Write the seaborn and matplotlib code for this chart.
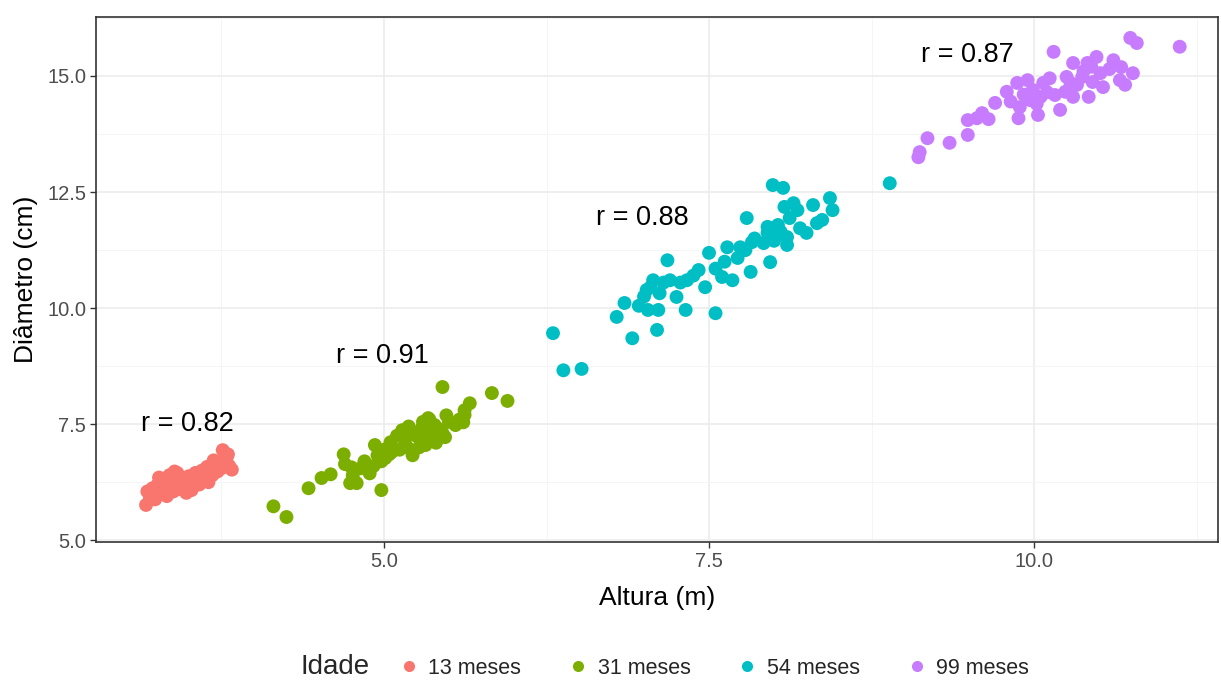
import matplotlib
matplotlib.use("Agg")
import matplotlib.pyplot as plt
from matplotlib.lines import Line2D
from matplotlib.ticker import MultipleLocator, FormatStrFormatter
import seaborn as sns
import pandas as pd

# data
x13 = [3.17, 3.18, 3.20, 3.22, 3.24, 3.26, 3.28, 3.30, 3.31, 3.33, 3.35, 3.36, 3.38,
       3.40, 3.41, 3.43, 3.45, 3.46, 3.48, 3.50, 3.51, 3.53, 3.55, 3.56, 3.58, 3.60,
       3.62, 3.63, 3.65, 3.67, 3.68, 3.70, 3.72, 3.73, 3.75, 3.77, 3.78, 3.80, 3.76,
       3.81, 3.83, 3.27, 3.39, 3.52, 3.64, 3.25, 3.44, 3.57, 3.69, 3.79]
y13 = [5.76, 6.05, 5.92, 6.12, 5.88, 6.20, 6.00, 6.30, 6.08, 5.95, 6.40, 6.18, 6.05,
       6.28, 6.45, 6.10, 6.35, 6.22, 6.02, 6.38, 6.25, 6.15, 6.45, 6.30, 6.20, 6.50,
       6.35, 6.42, 6.25, 6.55, 6.40, 6.60, 6.48, 6.68, 6.55, 6.72, 6.62, 6.85, 6.94,
       6.60, 6.52, 6.35, 6.48, 6.08, 6.58, 5.98, 6.20, 6.42, 6.72, 6.78]

x31 = [4.15, 4.25, 4.42, 4.52, 4.59, 4.69, 4.70, 4.75, 4.76, 4.74, 4.79, 4.85, 4.89,
       4.93, 4.95, 4.98, 5.01, 5.05, 5.06, 5.14, 5.16, 5.18, 5.22, 5.24, 5.29, 5.32,
       5.34, 5.37, 5.39, 5.45, 5.45, 5.48, 5.55, 5.61, 5.62, 5.66, 5.83, 5.95,
       5.10, 5.20, 5.28, 5.12, 5.35, 5.42, 5.50, 5.58, 5.00, 4.92, 5.27, 5.40,
       5.62, 5.04, 5.19, 5.33, 4.82, 4.98, 5.30, 5.47]
y31 = [5.73, 5.50, 6.12, 6.34, 6.42, 6.85, 6.64, 6.57, 6.40, 6.23, 6.23, 6.70, 6.44,
       7.05, 6.83, 6.08, 6.77, 7.11, 6.90, 7.37, 7.16, 7.00, 6.83, 7.26, 7.41, 7.05,
       7.63, 7.20, 7.48, 8.30, 7.31, 7.69, 7.48, 7.54, 7.80, 7.95, 8.17, 8.00,
       7.25, 7.35, 7.15, 6.95, 7.60, 7.40, 7.55, 7.60, 6.95, 6.60, 7.00, 7.10,
       7.70, 6.85, 7.45, 7.30, 6.55, 6.70, 7.55, 7.22]

x54 = [6.30, 6.38, 6.52, 6.79, 6.85, 6.91, 7.03, 7.10, 7.11, 7.02, 7.07, 7.12, 7.18,
       7.20, 7.25, 7.32, 7.33, 7.42, 7.47, 7.50, 7.55, 7.60, 7.64, 7.68, 7.72, 7.74,
       7.79, 7.82, 7.83, 7.95, 7.97, 7.99, 8.01, 8.03, 8.07, 8.08, 8.10, 8.10, 8.12,
       8.15, 8.18, 8.20, 8.25, 8.30, 8.33, 8.37, 8.43, 8.45, 8.89,
       7.05, 7.15, 7.00, 7.38, 7.55, 7.62, 7.85, 7.92, 8.05, 8.00, 7.28, 7.78, 7.95, 6.96]
y54 = [9.46, 8.66, 8.69, 9.81, 10.11, 9.35, 9.96, 9.53, 9.96, 10.39, 10.60, 10.32, 11.03,
       10.60, 10.24, 9.96, 10.60, 10.82, 10.45, 11.19, 9.89, 10.67, 11.31, 10.60, 11.08, 11.31,
       11.94, 10.78, 11.42, 11.62, 10.99, 12.65, 11.57, 11.79, 12.59, 12.18, 11.53, 11.36, 11.94,
       12.26, 12.11, 11.72, 11.62, 12.22, 11.83, 11.90, 12.37, 12.11, 12.69,
       10.45, 10.55, 10.25, 10.70, 10.85, 11.00, 11.50, 11.40, 11.65, 11.45, 10.55, 11.25, 11.75, 10.05]

x99 = [9.11, 9.12, 9.18, 9.35, 9.49, 9.49, 9.56, 9.65, 9.70, 9.79, 9.87, 9.88, 9.89,
       9.95, 9.97, 9.99, 10.03, 10.05, 10.07, 10.15, 10.16, 10.20, 10.24, 10.25, 10.30,
       10.30, 10.33, 10.37, 10.41, 10.42, 10.45, 10.48, 10.51, 10.53, 10.61, 10.66, 10.67,
       10.70, 10.74, 10.76, 10.79, 11.12,
       10.02, 10.10, 9.92, 10.28, 10.38, 10.44, 9.82, 10.12, 10.58, 9.60]
y99 = [13.25, 13.36, 13.66, 13.56, 14.05, 13.73, 14.09, 14.07, 14.42, 14.66, 14.85, 14.09, 14.33,
       14.91, 14.48, 14.70, 14.16, 14.55, 14.85, 15.52, 14.59, 14.27, 14.66, 14.98, 15.28,
       14.55, 14.81, 14.98, 15.28, 14.55, 14.87, 15.41, 15.06, 14.76, 15.34, 14.91, 15.19,
       14.81, 15.82, 15.06, 15.71, 15.63,
       14.40, 14.65, 14.60, 14.85, 15.10, 15.20, 14.45, 14.95, 15.15, 14.20]

groups = ["13 meses", "31 meses", "54 meses", "99 meses"]
colors = ["#F8766D", "#7CAE00", "#00BFC4", "#C77CFF"]
r_labels = ["r = 0.82", "r = 0.91", "r = 0.88", "r = 0.87"]
r_x = [3.49, 4.99, 6.99, 9.49]
r_y = [7.50, 8.97, 11.94, 15.45]

df = pd.concat([
    pd.DataFrame({"Altura": x, "Diametro": y, "Idade": g})
    for x, y, g in zip([x13, x31, x54, x99], [y13, y31, y54, y99], groups)
])

sns.set_theme(style="whitegrid")
plt.rcParams["font.family"] = ["Liberation Sans", "DejaVu Sans"]

fig = plt.figure(figsize=(12.21, 6.81), dpi=100)
ax = fig.add_axes([0.0786, 0.204, 0.919, 0.771])

sns.scatterplot(data=df, x="Altura", y="Diametro", hue="Idade", hue_order=groups,
                palette=colors, s=100, linewidth=0, alpha=1, ax=ax, legend=False)

for lab, tx, ty in zip(r_labels, r_x, r_y):
    ax.text(tx, ty, lab, ha="center", va="center", fontsize=19.5, color="black")

ax.set_xlim(2.785, 11.415)
ax.set_ylim(4.96, 16.27)
ax.xaxis.set_major_locator(MultipleLocator(2.5))
ax.xaxis.set_minor_locator(MultipleLocator(1.25))
ax.yaxis.set_major_locator(MultipleLocator(2.5))
ax.yaxis.set_minor_locator(MultipleLocator(1.25))
ax.xaxis.set_major_formatter(FormatStrFormatter("%.1f"))
ax.yaxis.set_major_formatter(FormatStrFormatter("%.1f"))

ax.grid(which="major", color="#EBEBEB", linewidth=1.1)
ax.grid(which="minor", color="#F4F4F4", linewidth=0.6)
ax.set_axisbelow(True)
for sp in ax.spines.values():
    sp.set_color("#333333")
    sp.set_linewidth(1.2)

ax.tick_params(axis="both", which="major", length=4, width=1, color="#333333",
               labelsize=14.5, labelcolor="#4D4D4D", bottom=True, left=True, pad=3)
ax.tick_params(axis="both", which="minor", length=0)
ax.set_xlabel("Altura (m)", fontsize=19, color="black", labelpad=11)
ax.set_ylabel("Diâmetro (cm)", fontsize=19, color="black", labelpad=7)

# legend along the bottom, title inline
fig.text(0.246, 0.021, "Idade", fontsize=20, ha="left", va="center")
handles = [Line2D([0], [0], marker="o", color="w", markerfacecolor=c, markersize=9,
                  linewidth=0) for c in colors]
fig.legend(handles, groups, loc="center left", bbox_to_anchor=(0.3137, 0.019),
           ncol=4, frameon=False, fontsize=15.5, handletextpad=0.3,
           columnspacing=2.05, handlelength=1.2, borderpad=0.1)

fig.savefig("out.png", dpi=100)
plt.close(fig)
